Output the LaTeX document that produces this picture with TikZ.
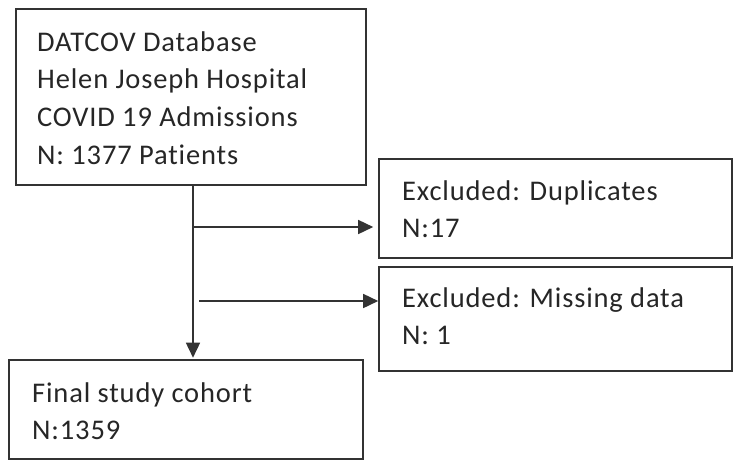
\documentclass[tikz,border=0pt]{standalone}
\usepackage{fontspec}
\setmainfont{Carlito}[Ligatures={NoCommon},LetterSpace=3]
\usetikzlibrary{arrows.meta}
\definecolor{ink}{HTML}{262626}
\definecolor{edge}{HTML}{333333}
\begin{document}
\begin{tikzpicture}[x=1pt,y=-1pt,
  boxnode/.style={draw=edge,line width=1.6pt,rectangle,inner sep=0pt},
  txt/.style={anchor=base west,inner sep=0pt,text=ink,font=\fontsize{28.5}{34}\selectfont},
  arr/.style={draw=edge,line width=1.6pt,-{Triangle[length=15pt,width=14pt]}}]
\useasboundingbox (0,0) rectangle (741,474);
\node[boxnode,minimum width=350pt,minimum height=176pt] (top) at (191,97) {};
\node[boxnode,minimum width=353pt,minimum height=99pt] (ex1) at (555.5,208.5) {};
\node[boxnode,minimum width=353pt,minimum height=104pt] (ex2) at (555.5,319) {};
\node[boxnode,minimum width=354pt,minimum height=99pt] (fin) at (186,409.5) {};
\node[txt] (t1) at (37,51) {DATCOV Database};
\node[txt] (t2) at (37,88) {Helen Joseph Hospital};
\node[txt] (t3) at (37,126) {COVID 19 Admissions};
\node[txt] (t4) at (37,164) {N: 1377 Patients};
\node[txt] (e1) at (402,200) {Excluded: Duplicates};
\node[txt] (e2) at (402,237) {N:17};
\node[txt] (m1) at (402,307) {Excluded: Missing data};
\node[txt] (m2) at (402,344) {N: 1};
\node[txt] (f1) at (32,402) {Final study cohort};
\node[txt] (f2) at (32,439) {N:1359};
\coordinate (vx) at (193,0);
\coordinate (a1) at (193,227);
\coordinate (a2) at (199,301);
\draw[arr,shorten >=1.5pt] (top.south -| vx) -- (fin.north -| vx);
\draw[arr,shorten >=5pt] (a1) -- (a1 -| ex1.west);
\draw[arr] (a2) -- (a2 -| ex2.west);
\end{tikzpicture}
\end{document}
